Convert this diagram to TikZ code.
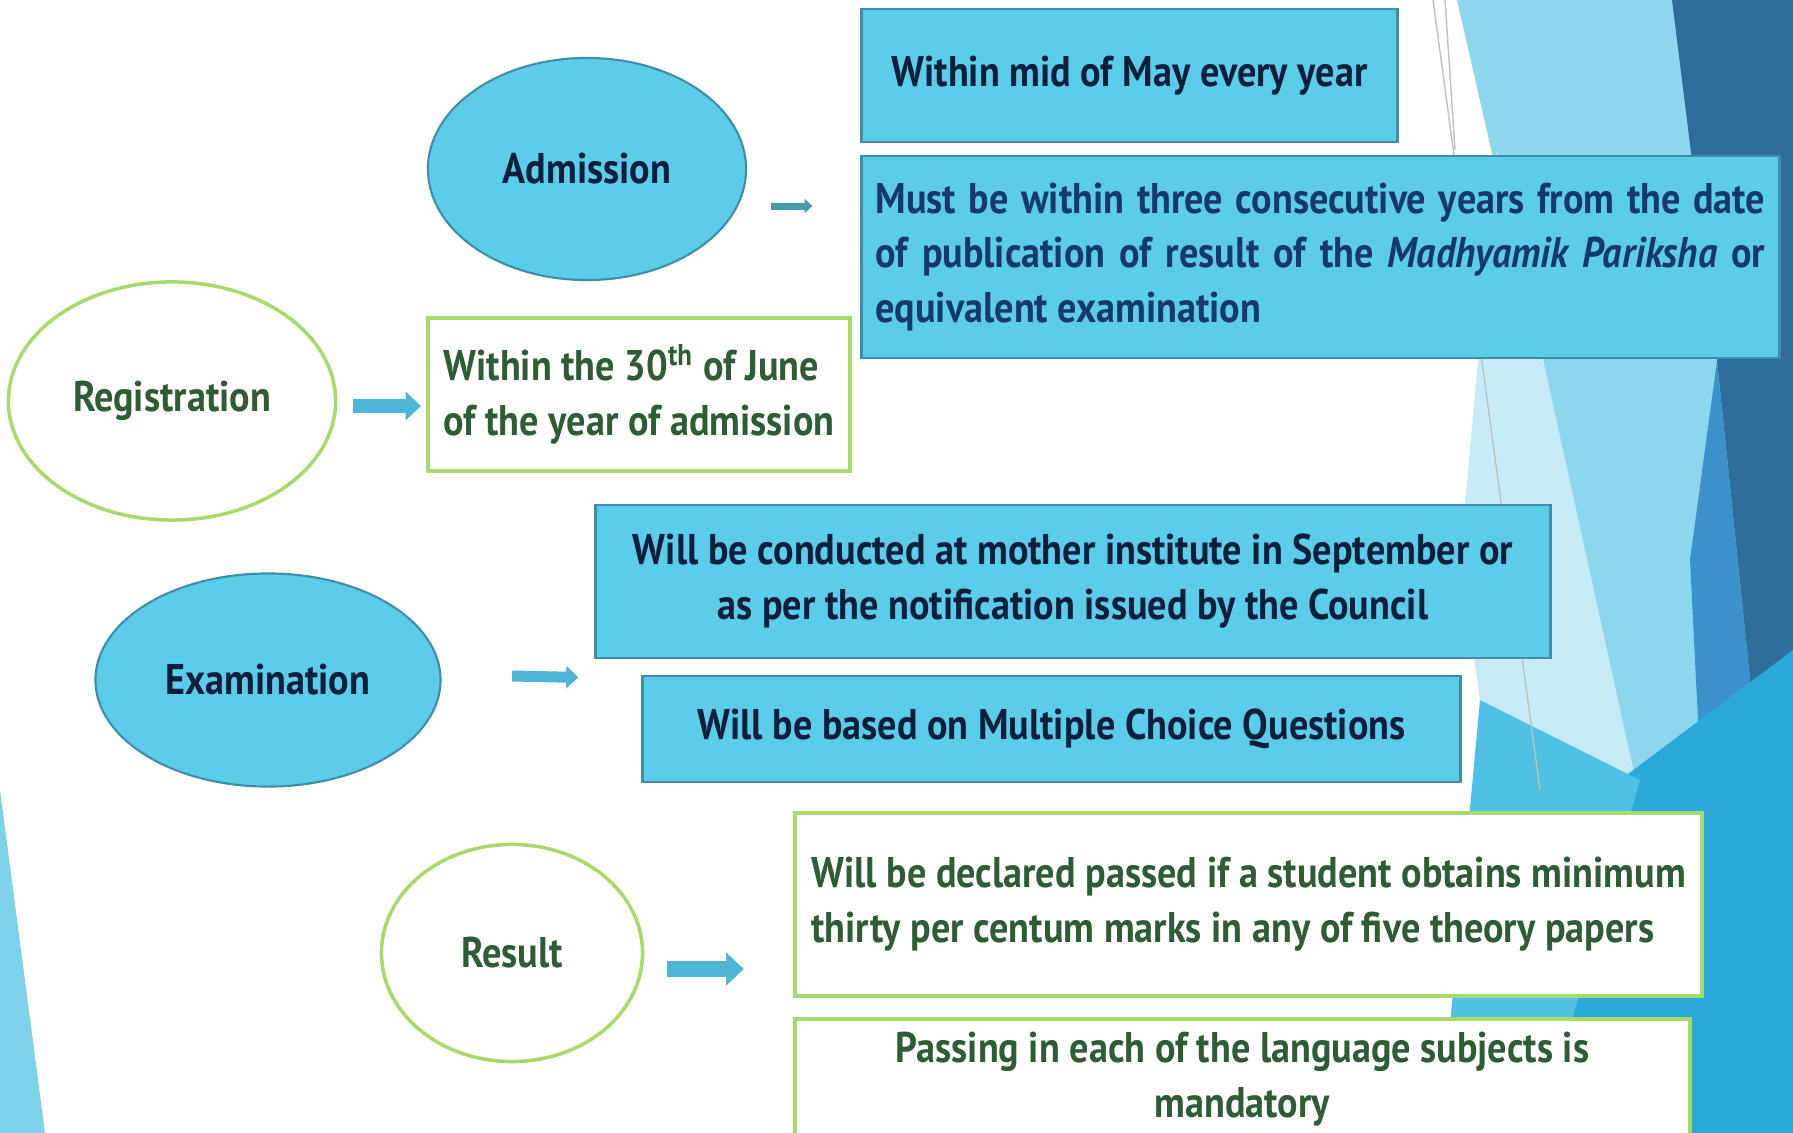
\documentclass[tikz,border=0pt]{standalone}
\usepackage{fontspec}
\setmainfont{PT Sans}[FakeStretch=0.89]
\usetikzlibrary{shapes.geometric,arrows.meta}

\definecolor{boxblue}{HTML}{5CCDE8}
\definecolor{edgeblue}{HTML}{3E8EA9}
\definecolor{edgegreen}{HTML}{A8D96B}
\definecolor{navytext}{HTML}{0F1E3C}
\definecolor{musttext}{HTML}{17386B}
\definecolor{greentext}{HTML}{2E5D33}
\definecolor{arrowblue}{HTML}{4DB5D6}
\definecolor{arrowteal}{HTML}{4A9AAD}
\definecolor{bgleft}{HTML}{7DD2EA}
\definecolor{bglight}{HTML}{8CD7EE}
\definecolor{bgpale}{HTML}{C6EBF6}
\definecolor{bgdark}{HTML}{2F6E9B}
\definecolor{bgmid}{HTML}{3B92CA}
\definecolor{bgbright}{HTML}{2AA9D9}
\definecolor{bgcyan}{HTML}{4FC1E4}

\tikzset{
  blueoval/.style={ellipse, draw=edgeblue, line width=0.6pt, fill=boxblue, text=navytext, inner sep=0pt},
  greenoval/.style={ellipse, draw=edgegreen, line width=1pt, fill=white, text=greentext, inner sep=0pt},
  bluebox/.style={rectangle, draw=edgeblue, line width=0.8pt, fill=boxblue, text=navytext, inner sep=0pt},
  greenbox/.style={rectangle, draw=edgegreen, line width=1.1pt, fill=white, text=greentext, inner sep=0pt},
  fatarrow/.style={line width=#1, arrowblue, -{Triangle[width=2*#1, length=1.1*#1]}},
}

\begin{document}
\begin{tikzpicture}[x=0.01cm, y=-0.01cm, font=\fontsize{12.2}{15.6}\selectfont\bfseries]
\useasboundingbox (0,0) rectangle (1793,1133);
% background facets
\fill[white] (0,0) rectangle (1793,1133);
\fill[bgleft] (0,790) -- (45,1133) -- (0,1133) -- cycle;
\fill[bglight] (1457,0) -- (1793,0) -- (1793,1133) -- (1540,1133) -- (1640,800) -- cycle;
\fill[bgpale] (1497,150) -- (1640,800) -- (1480,700) -- (1460,560) -- cycle;
\fill[bgdark] (1672,0) -- (1793,0) -- (1793,720) -- (1753,708) -- (1717,361) -- cycle;
\fill[bgmid] (1717,361) -- (1753,708) -- (1700,760) -- (1690,560) -- cycle;
\fill[bgbright] (1620,780) -- (1793,650) -- (1793,1133) -- (1540,1133) -- cycle;
\fill[bgcyan] (1480,700) -- (1640,780) -- (1540,1133) -- (1440,1133) -- cycle;
\draw[gray!50, line width=0.4pt] (1433,0) -- (1540,790);
\draw[gray!50, line width=0.4pt] (1445,0) -- (1455,150);

% ovals
\node[blueoval, minimum width=3.18cm, minimum height=2.22cm] (adm) at (587,169) {Admission};
\node[greenoval, minimum width=3.27cm, minimum height=2.38cm] (reg) at (172,401) {Registration};
\node[blueoval, minimum width=3.45cm, minimum height=2.13cm] (exam) at (268,680) {Examination};
\node[greenoval, minimum width=2.61cm, minimum height=2.17cm] (res) at (512,953) {Result};

% boxes
\node[bluebox, minimum width=5.35cm, minimum height=1.33cm] (maybox) at (1129.5,75.5) {Within mid of May every year};
\node[bluebox, text=musttext, inner xsep=0.14cm, text width=8.89cm, align=justify, minimum height=2.02cm] (mustbox) at (1320.5,257)
  {Must be within three consecutive years from the date\linebreak of publication of result of the \textit{Madhyamik Pariksha} or\linebreak equivalent examination};
\node[greenbox, align=left, minimum width=4.22cm, minimum height=1.53cm] (regbox) at (639,394.5)
  {Within the 30\textsuperscript{th} of June\\of the year of admission};
\node[bluebox, align=center, minimum width=9.54cm, minimum height=1.53cm] (exbox) at (1073,581.5)
  {Will be conducted at mother institute in September or\\as per the notification issued by the Council};
\node[bluebox, minimum width=8.17cm, minimum height=1.06cm] (mcqbox) at (1051.5,729) {Will be based on Multiple Choice Questions};
\node[greenbox, align=left, minimum width=9.07cm, minimum height=1.83cm] (passbox) at (1248.5,904.5)
  {Will be declared passed if a student obtains minimum\\thirty per centum marks in any of five theory papers};
\node[greenbox, align=center, minimum width=8.95cm, minimum height=1.21cm] (langbox) at (1242.5,1079.5)
  {Passing in each of the language subjects is\\mandatory};

% arrows
\draw[fatarrow=0.07cm, arrowteal] ([shift={(24,37)}]adm.east) -- ([shift={(-48,-51)}]mustbox.west);
\draw[fatarrow=0.14cm] ([shift={(16,5)}]reg.east) -- ([shift={(-5,11.5)}]regbox.west);
\draw[fatarrow=0.11cm] ([shift={(70.5,-4)}]exam.east) -- ([shift={(-16,18)}]exbox.south west);
\draw[fatarrow=0.16cm] ([shift={(22.5,16)}]res.east) -- ([shift={(-49,64.5)}]passbox.west);
\end{tikzpicture}
\end{document}
